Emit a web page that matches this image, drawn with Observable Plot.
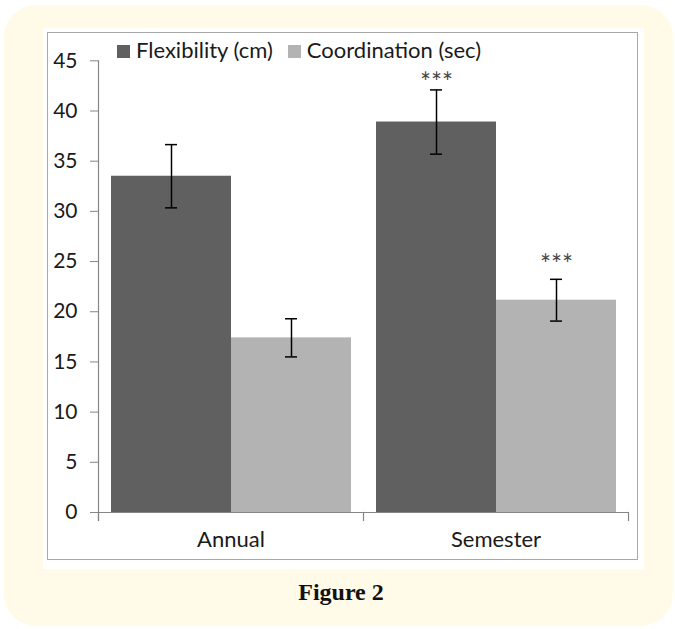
<!DOCTYPE html>
<html>
<head>
<meta charset="utf-8">
<script src="https://cdn.jsdelivr.net/npm/d3@7"></script>
<script src="https://cdn.jsdelivr.net/npm/@observablehq/plot@0.6"></script>
<style>
  html, body { margin: 0; padding: 0; background: #ffffff; }
  #page { position: relative; width: 675px; height: 629px; overflow: hidden; font-family: Lato, "Open Sans", sans-serif; }
  #cream { position: absolute; left: 4px; top: 5px; width: 669px; height: 621px; background: #fffbe8; border-radius: 32px; }
  #white { position: absolute; left: 43px; top: 28px; width: 601px; height: 541px; background: #ffffff; }
  #chart { position: absolute; left: 48px; top: 33px; width: 589px; height: 526px; }
  #border { position: absolute; left: 47px; top: 32px; width: 591px; height: 528px; border: 1.5px solid #a8a8a8; box-sizing: border-box; pointer-events: none; }
  #legend { position: absolute; left: 117px; top: 36px; display: flex; align-items: center; font-size: 22px; color: #1a1a1a; white-space: nowrap; }
  #legend .item { display: flex; align-items: center; margin-right: 15px; }
  #legend .sw { width: 13px; height: 13px; margin-right: 6px; margin-top: 3px; }
  #caption { position: absolute; left: 0; width: 682px; top: 579px; text-align: center; font-family: "Liberation Serif", serif; font-weight: bold; font-size: 24px; color: #111; }
</style>
</head>
<body>
<div id="page">
  <div id="cream"></div>
  <div id="white"></div>
  <div id="chart"></div>
  <div id="border"></div>
  <div id="legend"></div>
  <div id="caption">Figure 2</div>
</div>
<script>
// ---- data ----
const groups = ["Annual", "Semester"];
const series = ["Flexibility (cm)", "Coordination (sec)"];
const flexibility = [33.5, 38.9];
const coordination = [17.4, 21.15];
const flexibilityErr = [3.15, 3.2];
const coordinationErr = [1.9, 2.08];
const significance = ["", "***"];
const yTicks = [0, 5, 10, 15, 20, 25, 30, 35, 40, 45];
const colors = ["#606060", "#b3b3b3"];

const data = groups.flatMap((g, i) => [
  { group: g, series: series[0], value: flexibility[i], err: flexibilityErr[i], star: significance[i] },
  { group: g, series: series[1], value: coordination[i], err: coordinationErr[i], star: significance[i] }
]);

const W = 589, H = 526;
const mL = 49, mR = 9, mT = 27.3, mB = 47;
const innerH = H - mT - mB;
const axisGrey = "#868686";
const font = "Lato, 'Open Sans', sans-serif";

const chart = Plot.plot({
  width: W,
  height: H,
  marginLeft: mL,
  marginRight: mR,
  marginTop: mT,
  marginBottom: mB,
  style: { fontFamily: font, fontSize: "22px", background: "transparent", color: "#1a1a1a", overflow: "visible" },
  fx: { domain: groups, padding: 0, label: null },
  x: { domain: series, paddingInner: 0, paddingOuter: 0.1, axis: null },
  y: { domain: [0, 45], axis: null },
  color: { domain: series, range: colors },
  marks: [
    Plot.barY(data, { fx: "group", x: "series", y: "value", fill: "series" }),
    Plot.ruleX(data, { fx: "group", x: "series", y1: d => d.value - d.err, y2: d => d.value + d.err, stroke: "#000", strokeWidth: 1.5 }),
    Plot.tickY(data, { fx: "group", x: "series", y: d => d.value + d.err, stroke: "#000", strokeWidth: 1.5, insetLeft: 54, insetRight: 54 }),
    Plot.tickY(data, { fx: "group", x: "series", y: d => d.value - d.err, stroke: "#000", strokeWidth: 1.5, insetLeft: 54, insetRight: 54 }),
    Plot.text(data.filter(d => d.series === series[0]), { fx: "group", x: "series", y: d => d.value + d.err, text: "star", dy: -6, fontSize: 26, fill: "#444" }),
    Plot.text(data.filter(d => d.series === series[1]), { fx: "group", x: "series", y: d => d.value + d.err, text: "star", dy: -14, fontSize: 26, fill: "#444" }),
    Plot.ruleY([0], { stroke: axisGrey, strokeWidth: 1.2 }),
    Plot.frame({ anchor: "left", facetAnchor: "left", stroke: axisGrey, strokeWidth: 1.2, insetBottom: -8 }),
    Plot.frame({ anchor: "left", stroke: axisGrey, strokeWidth: 1.2, insetTop: innerH, insetBottom: -8 }),
    Plot.frame({ anchor: "right", facetAnchor: "right", stroke: axisGrey, strokeWidth: 1.2, insetTop: innerH, insetBottom: -8 }),
    Plot.axisY({ ticks: yTicks, tickSize: 8, tickPadding: 13, stroke: axisGrey, fill: "#1a1a1a", fontSize: 21, label: null }),
    Plot.axisFx({ anchor: "bottom", tickSize: 0, tickPadding: 19, fontSize: 22, fill: "#1a1a1a", label: null })
  ]
});
document.getElementById("chart").appendChild(chart);

// legend
const legend = document.getElementById("legend");
series.forEach((s, i) => {
  const item = document.createElement("div");
  item.className = "item";
  const sw = document.createElement("span");
  sw.className = "sw";
  sw.style.background = colors[i];
  const label = document.createElement("span");
  label.textContent = s;
  item.appendChild(sw);
  item.appendChild(label);
  legend.appendChild(item);
});
</script>
</body>
</html>
